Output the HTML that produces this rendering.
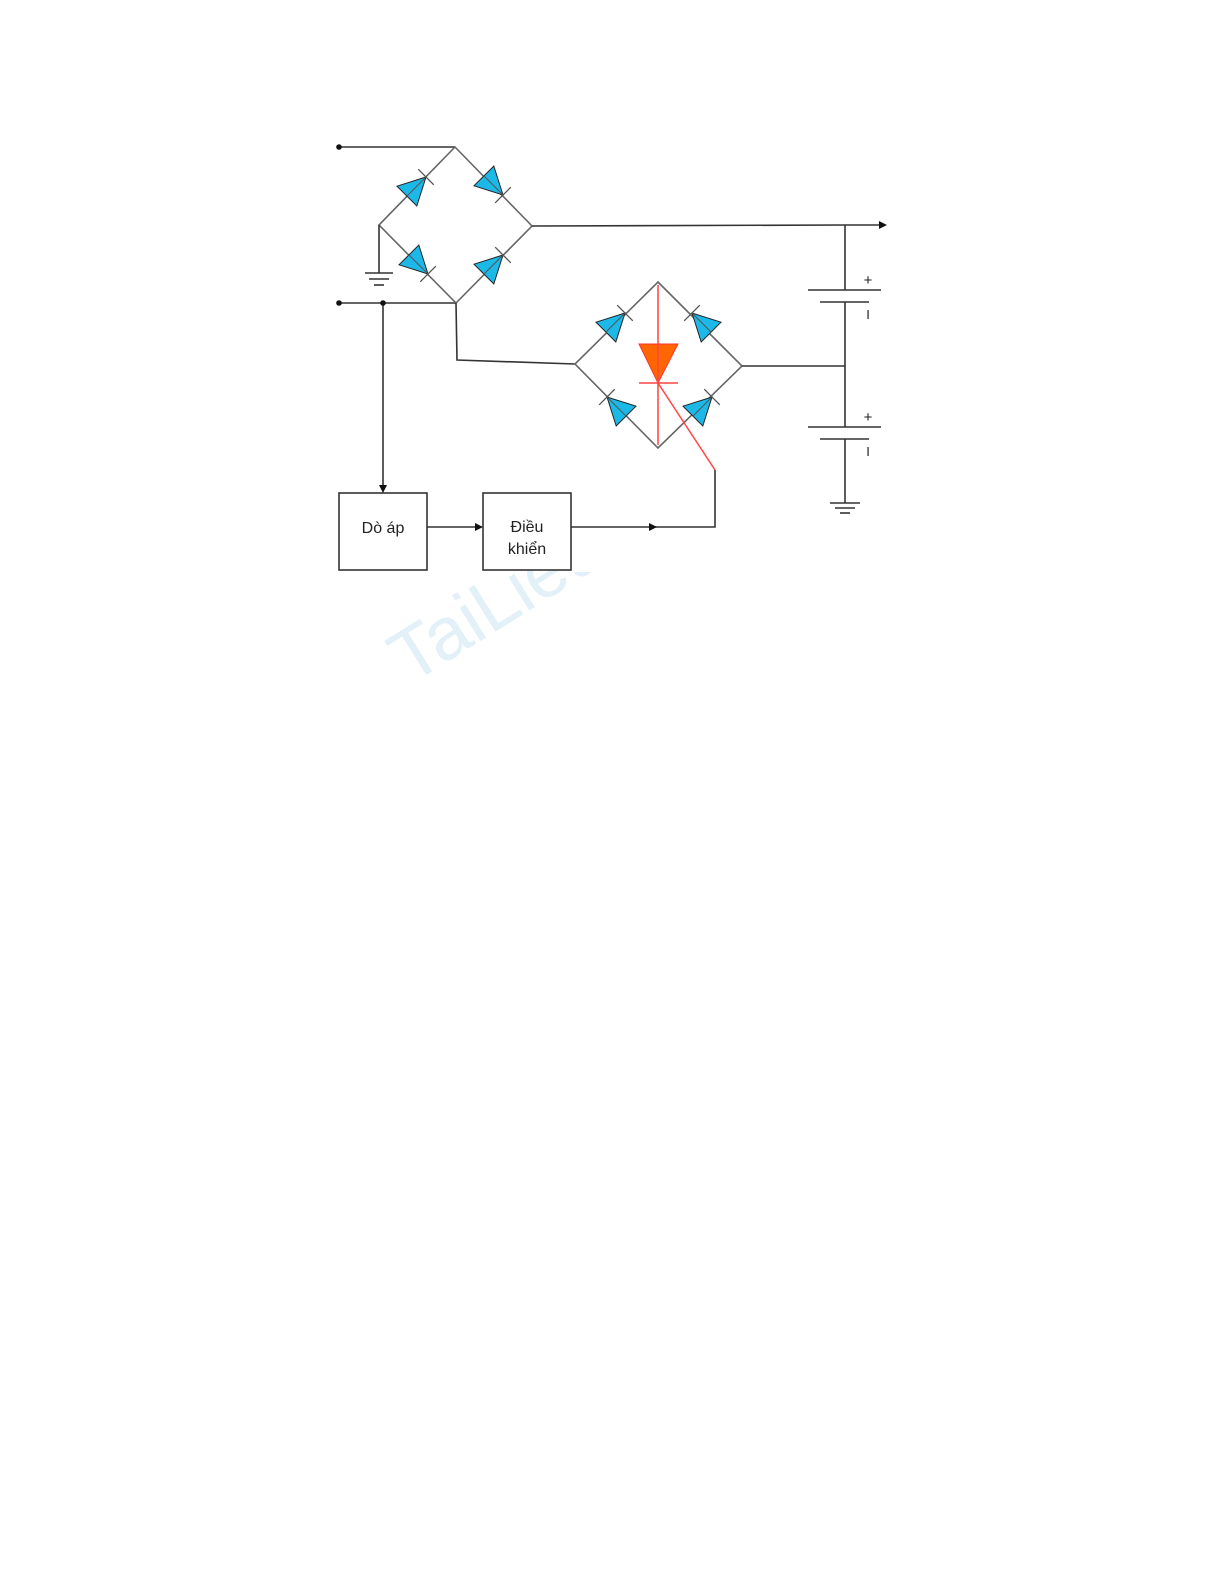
<!DOCTYPE html>
<html><head><meta charset="utf-8"><style>html,body{margin:0;padding:0;background:#fff}svg{display:block}</style></head>
<body>
<svg width="1225" height="1585" viewBox="0 0 1225 1585" xmlns="http://www.w3.org/2000/svg">
<defs>
<g id="d">
<polygon points="0,0 -27,-14 -27,14" fill="#1cb8e8" stroke="#222" stroke-width="1"/>
<line x1="-27" y1="0" x2="0" y2="0" stroke="#555" stroke-width="1"/>
<line x1="0" y1="-11" x2="0" y2="11" stroke="#555" stroke-width="1.3"/>
</g>
</defs>
<text x="0" y="0" transform="translate(410,685) rotate(-32)" font-family="Liberation Sans, sans-serif" font-size="74" fill="#e2f0f7">TaiLieu</text>
<rect x="560" y="440" width="400" height="132" fill="#fff"/>
<rect x="480" y="440" width="120" height="60" fill="#fff"/>

<g fill="none" stroke="#333" stroke-width="1.6">
<polyline points="339,147 455,147"/>
<polyline points="339,303 456,303"/>
<polygon points="455,147 532,226 456,303 379,225" stroke="#666"/>
<line x1="379" y1="225" x2="379" y2="273"/>
<line x1="365" y1="273" x2="393" y2="273"/>
<line x1="369" y1="279" x2="389" y2="279"/>
<line x1="374" y1="285" x2="384" y2="285"/>
<polyline points="532,226 845,225 880,225"/>
<line x1="845" y1="225" x2="845" y2="290"/>
<polyline points="456,303 457,360 575,364"/>
<polygon points="658,282 742,366 658,448 575,364" stroke="#666"/>
<line x1="742" y1="366" x2="845" y2="366"/>
<line x1="808" y1="290" x2="881" y2="290"/>
<line x1="820" y1="302" x2="869" y2="302"/>
<line x1="845" y1="302" x2="845" y2="427"/>
<line x1="808" y1="427" x2="881" y2="427"/>
<line x1="820" y1="439" x2="869" y2="439"/>
<line x1="845" y1="439" x2="845" y2="503"/>
<line x1="830" y1="503" x2="860" y2="503"/>
<line x1="835" y1="508" x2="855" y2="508"/>
<line x1="840" y1="513" x2="850" y2="513"/>
<line x1="383" y1="303" x2="383" y2="487"/>
<rect x="339" y="493" width="88" height="77" fill="#fff"/>
<rect x="483" y="493" width="88" height="77" fill="#fff"/>
<line x1="427" y1="527" x2="477" y2="527"/>
<polyline points="571,527 715,527 715,470"/>
</g>
<g fill="#111">
<circle cx="339" cy="147" r="2.8"/>
<circle cx="339" cy="303" r="2.8"/>
<circle cx="383" cy="303" r="2.8"/>
<polygon points="887,225 879,221 879,229"/>
<polygon points="383,493 379,485 387,485"/>
<polygon points="483,527 475,523 475,531"/>
<polygon points="657,527 649,523 649,531"/>
</g>
<use href="#d" transform="translate(426,177) rotate(-45)"/>
<use href="#d" transform="translate(503,195) rotate(45)"/>
<use href="#d" transform="translate(428,274) rotate(45)"/>
<use href="#d" transform="translate(503,255) rotate(-45)"/>
<use href="#d" transform="translate(625,313) rotate(-45)"/>
<use href="#d" transform="translate(692,313) rotate(-135)"/>
<use href="#d" transform="translate(607,397) rotate(-135)"/>
<use href="#d" transform="translate(712,397) rotate(-45)"/>
<polygon points="639,344 678,344 658,383" fill="#ff6600" stroke="#f33" stroke-width="1"/>
<g stroke="#f44" stroke-width="1.5">
<line x1="658" y1="285" x2="658" y2="445"/>
<line x1="639" y1="383" x2="678" y2="383"/>
<line x1="658" y1="383" x2="715" y2="470"/>
</g>
<g font-family="Liberation Sans, sans-serif" font-size="16" fill="#222" text-anchor="middle">
<text x="383" y="533">Dò áp</text>
<text x="527" y="532">Điều</text>
<text x="527" y="554">khiển</text>
<text x="868" y="285" font-size="15">+</text>
<text x="868" y="422" font-size="15">+</text>
<text x="868" y="319" font-size="13">I</text>
<text x="868" y="456" font-size="13">I</text>
</g>
</svg>
</body></html>
